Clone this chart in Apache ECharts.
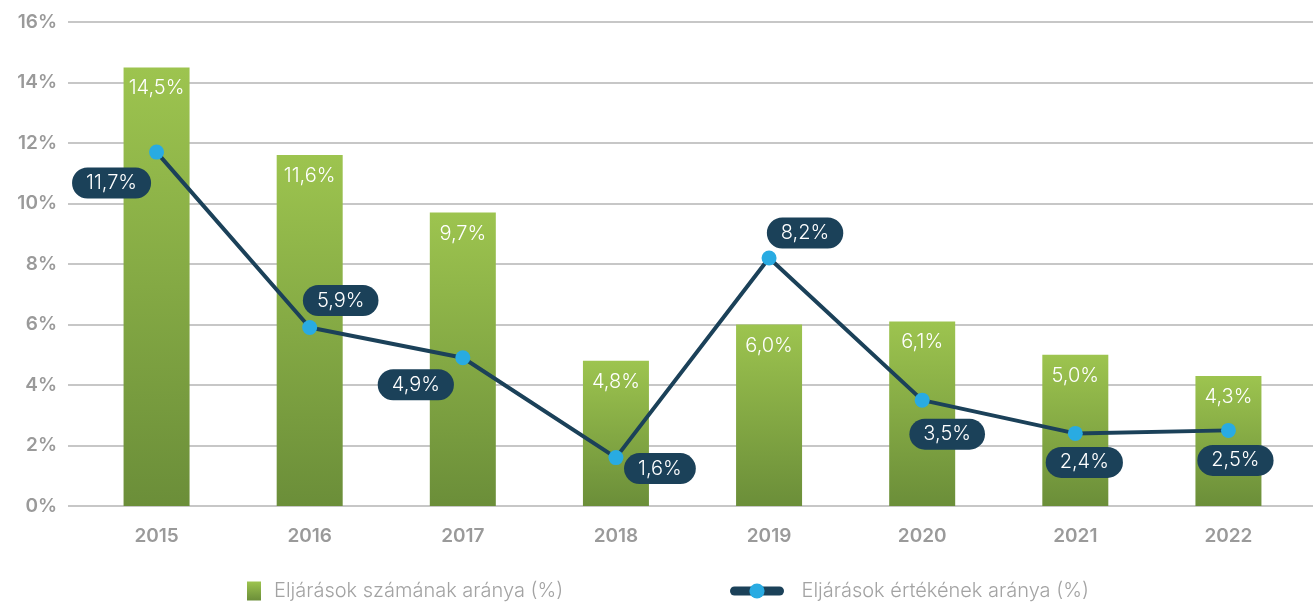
<!DOCTYPE html>
<html>
<head>
<meta charset="utf-8">
<script src="https://cdn.jsdelivr.net/npm/echarts@6/dist/echarts.min.js"></script>
<style>
  html, body { margin: 0; padding: 0; background: #fff; }
  #chart { width: 1313px; height: 603px; }
</style>
</head>
<body>
<div id="chart"></div>
<script>
var years = ['2015', '2016', '2017', '2018', '2019', '2020', '2021', '2022'];
var countShare = [14.5, 11.6, 9.7, 4.8, 6.0, 6.1, 5.0, 4.3];
var valueShare = [11.7, 5.9, 4.9, 1.6, 8.2, 3.5, 2.4, 2.5];
var yTicks = [0, 2, 4, 6, 8, 10, 12, 14, 16];
// label offsets of the line labels, relative to each point
var lineLabelOffsets = [[-45, 31], [31, -27], [-47, 27], [44, 11], [36, -25], [25, 34], [9, 29], [7, 30]];

var names = ['Eljárások számának aránya (%)', 'Eljárások értékének aránya (%)'];
var gray = '#9a9a9a';
var navy = '#1b4159';
var fmt = function (v) { return v.toFixed(1).replace('.', ',') + '%'; };

var e = echarts.init(document.getElementById('chart'));
e.setOption({
    animation: false,
    textStyle: {fontFamily: 'Inter'},
    grid: [
        {left: 80, right: 8, top: 22, bottom: 97},
        {left: 68, right: 0, top: 22, bottom: 97}
    ],
    legend: [
        {
            data: [{name: names[0], icon: 'rect'}], left: 242, top: 576, itemWidth: 14, itemHeight: 19,
            textStyle: {color: '#a3a3a3', fontSize: 20, fontWeight: 300, padding: [0, 0, 0, 8]}
        },
        {
            data: [names[1]], left: 725, top: 576, itemWidth: 45, itemHeight: 19,
            lineStyle: {width: 9, cap: 'round'},
            textStyle: {color: '#a3a3a3', fontSize: 20, fontWeight: 300, padding: [0, 0, 0, 17]}
        }
    ],
    xAxis: [
        {
            type: 'category', data: years, gridIndex: 0,
            axisLine: {show: false}, axisTick: {show: false},
            axisLabel: {color: gray, fontSize: 19, fontWeight: 600, margin: 21}
        },
        {type: 'category', data: years, gridIndex: 1, show: false}
    ],
    yAxis: [
        {
            type: 'value', gridIndex: 0, min: 0, max: 16, interval: 2,
            axisLabel: {show: false}, splitLine: {show: false}
        },
        {
            type: 'value', gridIndex: 1, min: yTicks[0], max: yTicks[yTicks.length - 1], interval: 2,
            axisLabel: {color: gray, fontSize: 19, fontWeight: 600, margin: 11, formatter: '{value}%'},
            splitLine: {lineStyle: {color: '#b4b4b4', width: 1.5}}
        }
    ],
    series: [
        {
            name: names[0], type: 'bar', data: countShare, barWidth: 66,
            itemStyle: {
                color: new echarts.graphic.LinearGradient(0, 0, 0, 1, [
                    {offset: 0, color: '#9dc44f'},
                    {offset: 1, color: '#6b8e39'}
                ])
            },
            label: {
                show: true, position: 'insideTop', distance: 11, color: '#fff', fontSize: 20, fontWeight: 300,
                formatter: function (p) { return fmt(p.value); }
            },
            z: 2
        },
        {
            name: names[1], type: 'line', data: valueShare.map(function (v, i) {
                return {value: v, label: {offset: lineLabelOffsets[i]}};
            }),
            symbol: 'circle', symbolSize: 15,
            itemStyle: {color: '#29abe2'},
            lineStyle: {color: navy, width: 4},
            label: {
                show: true, position: 'inside', color: '#fff', fontSize: 20, fontWeight: 300,
                backgroundColor: navy, borderRadius: 16, padding: [6, 14, 5, 14],
                formatter: function (p) { return fmt(p.value); }
            },
            z: 3
        }
    ]
});
</script>
</body>
</html>
